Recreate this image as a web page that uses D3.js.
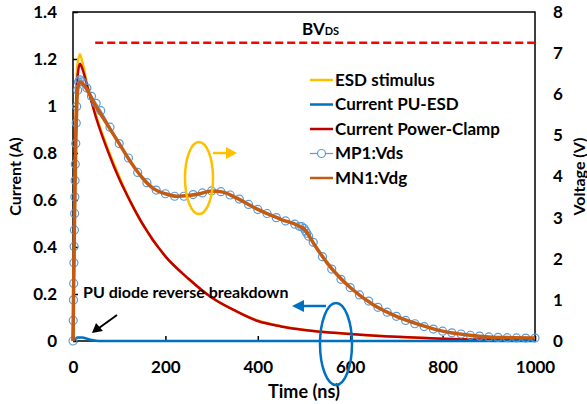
<!DOCTYPE html>
<html>
<head>
<meta charset="utf-8">
<script src="https://cdn.jsdelivr.net/npm/d3@7"></script>
<style>
  body { margin: 0; background: #fff; }
  text { font-family: Lato, "Open Sans", sans-serif; font-weight: bold; fill: #000; }
</style>
</head>
<body>
<script>
const width = 587, height = 404;

// time axis (ns)
const xTicks = [0, 200, 400, 600, 800, 1000];
const yLeftTicks = [0, 0.2, 0.4, 0.6, 0.8, 1, 1.2, 1.4];
const yRightTicks = [0, 1, 2, 3, 4, 5, 6, 7, 8];

// left axis series (A)
const esdTime = [0, 3, 6, 10, 15, 20, 30, 50, 75, 100, 125, 150, 200, 250, 300, 350, 400, 450, 500, 600, 700, 800, 900, 1000];
const esdVals = [0, 0.5, 0.97, 1.18, 1.22, 1.19, 1.1, 0.96, 0.82, 0.7, 0.59, 0.5, 0.36, 0.265, 0.185, 0.13, 0.087, 0.063, 0.048, 0.03, 0.018, 0.01, 0.006, 0.004];

const clampTime = [0, 3, 6, 10, 15, 20, 30, 50, 75, 100, 125, 150, 200, 250, 300, 350, 400, 450, 500, 600, 700, 800, 900, 1000];
const clampVals = [0, 0.45, 0.9, 1.13, 1.18, 1.16, 1.09, 0.95, 0.81, 0.69, 0.59, 0.5, 0.36, 0.265, 0.185, 0.13, 0.085, 0.062, 0.047, 0.03, 0.018, 0.01, 0.006, 0.004];

const puTime = [0, 5, 10, 20, 30, 40, 50, 60, 1000];
const puVals = [0, 0.008, 0.015, 0.015, 0.01, 0.004, 0.001, 0, 0];

// right axis series (V)
const mp1Time = [0, 0.5, 1, 1.5, 2, 2.5, 3, 3.5, 4, 4.5, 5, 6, 7, 8, 10, 12, 15, 20, 30, 40, 50, 60, 80, 100, 120, 140, 160, 180, 200,
  220, 240, 260, 280, 300, 320, 340, 360, 380, 400, 420, 440, 460, 480, 490, 495, 500, 503, 506,
  510, 520, 540, 560, 580, 600, 620, 640, 660, 680, 700, 720, 740, 760, 780, 800, 820, 840, 860, 880, 900, 920, 940, 960, 980, 1000];
const mp1Vals = [0, 0.5, 1.0, 1.4, 1.9, 2.3, 2.7, 3.1, 3.5, 3.9, 4.3, 4.8, 5.3, 5.7, 6.1, 6.3, 6.35, 6.3, 6.15, 5.95, 5.78, 5.6, 5.2, 4.8, 4.45, 4.1, 3.85, 3.67, 3.58,
  3.52, 3.52, 3.56, 3.6, 3.65, 3.63, 3.55, 3.45, 3.32, 3.2, 3.1, 3.0, 2.92, 2.84, 2.79, 2.78, 2.74, 2.68, 2.62,
  2.55, 2.4, 2.05, 1.75, 1.5, 1.3, 1.12, 0.97, 0.82, 0.7, 0.6, 0.5, 0.42, 0.35, 0.29, 0.24, 0.2, 0.17, 0.14, 0.12, 0.1, 0.09, 0.08, 0.075, 0.07, 0.07];

const mn1Time = [0, 1, 2, 4, 6, 8, 10, 15, 25, 50, 75, 100, 125, 150, 175, 200, 225, 250, 275, 300, 325, 350, 400, 450, 500, 525, 550, 600, 650, 700, 750, 800, 850, 900, 950, 1000];
const mn1Vals = [0, 1.0, 1.9, 3.5, 4.8, 5.7, 6.1, 6.3, 6.2, 5.7, 5.25, 4.8, 4.35, 3.97, 3.7, 3.58, 3.52, 3.54, 3.58, 3.65, 3.62, 3.5, 3.2, 2.96, 2.72, 2.3, 1.9, 1.3, 0.88, 0.6, 0.4, 0.24, 0.15, 0.1, 0.08, 0.07];

const bvTime = [48, 1000];
const bvVals = [7.25, 7.25];

const legendNames = ["ESD stimulus", "Current PU-ESD", "Current Power-Clamp", "MP1:Vds", "MN1:Vdg"];
const colors = ["#FFC000", "#0070C0", "#C00000", "#5B9BD5", "#C55A11"];

const margin = {left: 73, right: 52, top: 12, bottom: 63};

const x = d3.scaleLinear().domain([0, 1000]).range([margin.left, width - margin.right]);
const yL = d3.scaleLinear().domain([0, 1.4]).range([height - margin.bottom, margin.top]);
const yR = d3.scaleLinear().domain([0, 8]).range([height - margin.bottom, margin.top]);

const svg = d3.select("body").append("svg")
    .attr("width", width)
    .attr("height", height);

svg.append("rect").attr("width", width).attr("height", height).attr("fill", "#fff");

// frame
svg.append("path")
    .attr("d", `M${x(0)},${yL(0)}V${yL(1.4)}H${x(1000)}V${yL(0)}H${x(0)}`)
    .attr("fill", "none")
    .attr("stroke", "black")
    .attr("stroke-width", 1.5);

// left axis
const axL = svg.append("g")
    .attr("transform", `translate(${x(0)},0)`)
    .call(d3.axisLeft(yL).tickValues(yLeftTicks).tickSize(-5).tickPadding(16)
      .tickFormat(d => String(+d.toFixed(1))));
axL.select(".domain").remove();
axL.selectAll("line").attr("stroke-width", 1.5);
axL.selectAll("text").attr("font-size", 17).attr("font-family", "Lato").attr("font-weight", "bold");

// right axis
const axR = svg.append("g")
    .attr("transform", `translate(${x(1000)},0)`)
    .call(d3.axisRight(yR).tickValues(yRightTicks).tickSize(0).tickPadding(18));
axR.select(".domain").remove();
axR.selectAll("text").attr("font-size", 17).attr("font-family", "Lato").attr("font-weight", "bold");

// bottom axis
const axB = svg.append("g")
    .attr("transform", `translate(0,${yL(0)})`)
    .call(d3.axisBottom(x).tickValues(xTicks).tickSize(-5).tickPadding(20).tickFormat(d => String(d)));
axB.select(".domain").remove();
axB.selectAll("line").attr("stroke-width", 1.5);
axB.selectAll("text").attr("font-size", 17).attr("font-family", "Lato").attr("font-weight", "bold");

// axis titles
svg.append("text")
    .attr("transform", `translate(21,${(yL(0) + yL(1.4)) / 2}) rotate(-90)`)
    .attr("text-anchor", "middle")
    .attr("font-size", 16)
    .text("Current (A)");

svg.append("text")
    .attr("transform", `translate(585,${(yR(0) + yR(8)) / 2}) rotate(-90)`)
    .attr("text-anchor", "middle")
    .attr("font-size", 16)
    .text("Voltage (V)");

svg.append("text")
    .attr("x", x(500))
    .attr("y", 398)
    .attr("text-anchor", "middle")
    .attr("font-size", 18)
    .text("Time (ns)");

const lineL = (ts, vs) => d3.line().curve(d3.curveMonotoneX)
    .x((d, i) => x(ts[i])).y(d => yL(d))(vs);
const lineR = (ts, vs) => d3.line().curve(d3.curveMonotoneX)
    .x((d, i) => x(ts[i])).y(d => yR(d))(vs);

// BVds dashed line
svg.append("path")
    .attr("d", lineR(bvTime, bvVals))
    .attr("fill", "none")
    .attr("stroke", "#FF0000")
    .attr("stroke-width", 2.5)
    .attr("stroke-dasharray", "8,4");

const bv = svg.append("text")
    .attr("x", 302)
    .attr("y", 35)
    .attr("font-size", 17);
bv.append("tspan").text("BV");
bv.append("tspan").attr("font-size", 11).text("DS");

// series
svg.append("path")
    .attr("d", lineL(esdTime, esdVals))
    .attr("fill", "none").attr("stroke", colors[0]).attr("stroke-width", 2.5);

svg.append("path")
    .attr("d", lineL(clampTime, clampVals))
    .attr("fill", "none").attr("stroke", colors[2]).attr("stroke-width", 2.5);

svg.append("path")
    .attr("d", lineL(puTime, puVals))
    .attr("fill", "none").attr("stroke", colors[1]).attr("stroke-width", 2.5);

svg.append("path")
    .attr("d", lineR(mp1Time, mp1Vals))
    .attr("fill", "none").attr("stroke", colors[3]).attr("stroke-width", 1.5);

svg.append("g").selectAll("circle")
    .data(mp1Vals)
    .join("circle")
    .attr("cx", (d, i) => x(mp1Time[i]))
    .attr("cy", d => yR(d))
    .attr("r", 4)
    .attr("fill", "none")
    .attr("stroke", colors[3])
    .attr("stroke-width", 1.2);

svg.append("path")
    .attr("d", lineR(mn1Time, mn1Vals))
    .attr("fill", "none").attr("stroke", colors[4]).attr("stroke-width", 3.5);

// legend
const leg = svg.append("g");
legendNames.forEach((name, i) => {
  const ly = 80 + i * 24.5;
  leg.append("line")
      .attr("x1", 310).attr("x2", 333)
      .attr("y1", ly).attr("y2", ly)
      .attr("stroke", colors[i])
      .attr("stroke-width", i == 3 ? 1.2 : 2.5);
  if (i == 3) {
    leg.append("circle").attr("cx", 321.5).attr("cy", ly).attr("r", 4)
        .attr("fill", "#fff").attr("stroke", colors[3]).attr("stroke-width", 1.2);
  }
  leg.append("text")
      .attr("x", 335)
      .attr("y", ly)
      .attr("dy", "0.35em")
      .attr("font-size", 17)
      .text(name);
});

// annotations
svg.append("ellipse")
    .attr("cx", 199).attr("cy", 178).attr("rx", 14).attr("ry", 36)
    .attr("fill", "none").attr("stroke", "#FFC000").attr("stroke-width", 2.5);
svg.append("line")
    .attr("x1", 213).attr("y1", 153).attr("x2", 228).attr("y2", 153)
    .attr("stroke", "#FFC000").attr("stroke-width", 2.5);
svg.append("path")
    .attr("d", "M226,147L237,153L226,159Z")
    .attr("fill", "#FFC000");

svg.append("ellipse")
    .attr("cx", 336).attr("cy", 344).attr("rx", 16).attr("ry", 41)
    .attr("fill", "none").attr("stroke", "#0070C0").attr("stroke-width", 2.5);
svg.append("line")
    .attr("x1", 326).attr("y1", 306).attr("x2", 302).attr("y2", 306)
    .attr("stroke", "#0070C0").attr("stroke-width", 2.5);
svg.append("path")
    .attr("d", "M304,300L292,306L304,312Z")
    .attr("fill", "#0070C0");

svg.append("text")
    .attr("x", 83)
    .attr("y", 292)
    .attr("dy", "0.35em")
    .attr("font-size", 16)
    .text("PU diode reverse breakdown");

svg.append("line")
    .attr("x1", 117).attr("y1", 315).attr("x2", 99).attr("y2", 328)
    .attr("stroke", "black").attr("stroke-width", 2);
svg.append("path")
    .attr("d", "M92,333L96,323L103,331Z")
    .attr("fill", "black");
</script>
</body>
</html>
